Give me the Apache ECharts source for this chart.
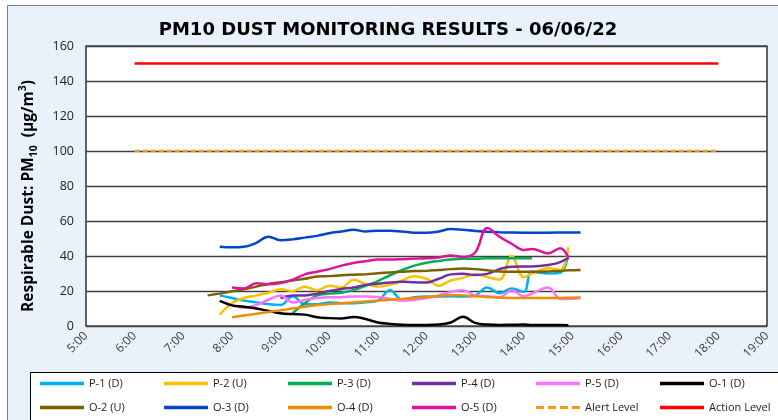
<!DOCTYPE html>
<html><head><meta charset="utf-8">
<script src="https://cdn.jsdelivr.net/npm/echarts@6/dist/echarts.min.js"></script>
<style>html,body{margin:0;padding:0;background:#fff}#c{width:778px;height:420px}</style>
</head><body><div id="c"></div>
<script>
// Sample times (hh:mm)
const times = ['7:30','7:45','8:00','8:15','8:30','8:45','9:00','9:15','9:30','9:45','10:00','10:15','10:30','10:45','11:00','11:15','11:30','11:45','12:00','12:15','12:30','12:45','13:00','13:15','13:30','13:45','14:00','14:10','14:30','14:45','14:55','15:10'];
const p1 = [null,17.5,16,14.5,13.5,12.5,12,17,12.5,12.5,13.5,13,13,13.5,14.5,20.5,15,16.5,16.8,16.8,17,16.8,17.5,22,18.7,21.5,19.5,31,30,30.5,40.5,null];
const p2 = [null,6.5,13,16,17.5,19,21,20,22.5,20.5,23,22,26.5,24,22.5,23.5,26,28.5,27,23,26,27.5,29.5,28,26.5,40,28,30,33,32,45,null];
const p3 = [null,null,null,null,null,null,null,7.5,13,17.5,18.5,19,20.5,23,25.7,29,32,34.5,36.2,37.2,38,38.5,38.5,38.7,38.7,38.7,38.7,38.7,null,null,null,null];
const p4 = [null,null,null,null,null,null,16,17.5,17.5,18.5,20,21.2,22,23.5,24.2,24.8,25.3,25,24.8,27,29.5,29.8,29.2,29.8,32.5,33.9,34,34,34.8,36.5,39,null];
const p5 = [null,null,11.5,10.5,12,15,17.5,13.5,14.8,16,16.5,16.5,16.8,16.8,16.6,15.5,14.5,15,16,17.5,19.5,20.5,17.5,17,16.5,20.5,17,18.5,22,15.5,15.5,16];
const o1 = [null,14.3,11.8,11,10,8.6,7.3,6.8,6.5,5,4.5,4.3,5.2,4,2,1.2,0.7,0.6,0.6,0.8,2,5.3,1.8,0.8,0.6,0.7,0.8,0.6,0.6,0.6,0.5,null];
const o2 = [17.5,18.5,19.8,21,22.5,24,25,26,27,28.3,28.5,29,29.3,29.5,30.1,30.6,31,31.4,31.5,32,32.5,32.8,32.5,31.8,31.2,31,31,31,31.2,31.5,31.8,32];
const o3 = [null,45.3,45,45.3,47.5,51,49,49.5,50.5,51.5,53,54,55,54,54.5,54.5,54,53.3,53.3,54,55.5,55,54.3,53.9,53.6,53.4,53.3,53.3,53.3,53.4,53.5,53.5];
const o4 = [null,null,5,6,7,8,9,10,11,12,12.5,13,13.5,14,14.5,15,15.5,16,16.5,17.2,17.7,17.5,17,16.5,16.2,16,16,16,16,16,16.2,16.3];
const o5 = [null,null,22,21.5,24.5,23.8,24.5,26.5,29.5,31,32.5,34.5,36,37,38,38,38.2,38.5,38.7,39.2,40.3,39.5,42,56,51,47,43.5,44,41.5,44.5,39,null];
const limitTimes = ['6:00','18:00'];
const alertLevel = [100,100];
const actionLevel = [150,150];
const xTicks = ['5:00','6:00','7:00','8:00','9:00','10:00','11:00','12:00','13:00','14:00','15:00','16:00','17:00','18:00','19:00'];
const yTicks = [0,20,40,60,80,100,120,140,160];

const toH = s => { const [h,m] = s.split(':').map(Number); return h + m/60; };
const pair = (ts, vs) => ts.map((t,i) => [toH(t), vs[i]]);

const defs = [
  ['P-1 (D)', p1, '#00B0F0'],
  ['P-2 (U)', p2, '#FFC000'],
  ['P-3 (D)', p3, '#00B050'],
  ['P-4 (D)', p4, '#7030A0'],
  ['P-5 (D)', p5, '#FF73FF'],
  ['O-1 (D)', o1, '#000000'],
  ['O-2 (U)', o2, '#7F6000'],
  ['O-3 (D)', o3, '#0046C8'],
  ['O-4 (D)', o4, '#F08C00'],
  ['O-5 (D)', o5, '#E0119B']
];
const series = defs.map(([name, vals, color]) => ({
  name, type: 'line', data: pair(times, vals), smooth: 0.4, symbol: 'none',
  connectNulls: false, lineStyle: {color, width: 2.5}, itemStyle: {color}
}));
series.push({name: 'Alert Level', type: 'line', data: pair(limitTimes, alertLevel), symbol: 'none',
  lineStyle: {color: '#F39C12', width: 2.5, type: [5,3]}, itemStyle: {color: '#F39C12'}});
series.push({name: 'Action Level', type: 'line', data: pair(limitTimes, actionLevel), symbol: 'none',
  lineStyle: {color: '#FF0000', width: 2.5}, itemStyle: {color: '#FF0000'}});

const row1 = ['P-1 (D)','P-2 (U)','P-3 (D)','P-4 (D)','P-5 (D)','O-1 (D)'];
const row2 = ['O-2 (U)','O-3 (D)','O-4 (D)','O-5 (D)','Alert Level','Action Level'];
const dashIcon = 'path://M0,0h8v3h-8zM12,0h8v3h-8zM24,0h8v3h-8zM36,0h8v3h-8z';
const legends = [];
[row1, row2].forEach((row, r) => row.forEach((name, c) => {
  legends.push({
    left: 40 + c*124, top: 378 + r*24, padding: 0,
    data: [{name, icon: name === 'Alert Level' ? dashIcon : 'rect'}],
    itemWidth: 44, itemHeight: 3.5,
    textStyle: {fontFamily: 'Open Sans', fontSize: 11, color: '#222'},
    selectedMode: false
  });
}));

const chart = echarts.init(document.getElementById('c'), null, {renderer: 'canvas'});
chart.setOption({
  backgroundColor: '#fff',
  animation: false,
  graphic: [
    {type: 'rect', z: -10, shape: {x: 7.5, y: 5.5, width: 800, height: 430}, style: {fill: '#E9F1FA', stroke: '#7F7F7F', lineWidth: 1}},
    {type: 'rect', z: -5, shape: {x: 30.5, y: 372.5, width: 800, height: 80}, style: {fill: '#fff', stroke: '#000', lineWidth: 1}}
  ],
  title: {
    text: 'PM10 DUST MONITORING RESULTS - 06/06/22', left: 383, top: 16, textAlign: 'center',
    textStyle: {fontFamily: 'DejaVu Sans', fontWeight: 'bold', fontSize: 18, color: '#000'}
  },
  legend: legends,
  grid: {left: 86, top: 46, width: 681, height: 280, show: true, backgroundColor: '#fff', borderColor: '#000', borderWidth: 1.2},
  xAxis: {
    type: 'value', min: 5, max: 19, interval: 1,
    axisLine: {show: false}, axisTick: {show: false}, splitLine: {show: false},
    axisLabel: {rotate: 45, margin: 8, fontFamily: 'Open Sans', fontSize: 12, color: '#404040',
      formatter: v => xTicks[Math.round(v) - 5]}
  },
  yAxis: {
    type: 'value', min: yTicks[0], max: yTicks[yTicks.length-1], interval: 20,
    axisLine: {show: false}, axisTick: {show: false},
    splitLine: {lineStyle: {color: '#404040', width: 1.3}},
    axisLabel: {margin: 12, fontFamily: 'Open Sans', fontSize: 12.5, color: '#222'},
    name: '{a|Respirable Dust: PM}{sub|10}{a|  (µg/m}{sup|3}{a|)}',
    nameLocation: 'middle', nameRotate: 90, nameGap: 46,
    nameTextStyle: {
      padding: [0, 20, 0, 0],
      rich: {
        a: {fontFamily: 'Open Sans', fontWeight: 'bold', fontSize: 15.5, color: '#000', lineHeight: 22, verticalAlign: 'middle'},
        sub: {fontFamily: 'Open Sans', fontWeight: 'bold', fontSize: 10.5, color: '#000', lineHeight: 22, verticalAlign: 'bottom'},
        sup: {fontFamily: 'Open Sans', fontWeight: 'bold', fontSize: 10.5, color: '#000', lineHeight: 22, verticalAlign: 'top'}
      }
    }
  },
  series
});
</script>
</body></html>
